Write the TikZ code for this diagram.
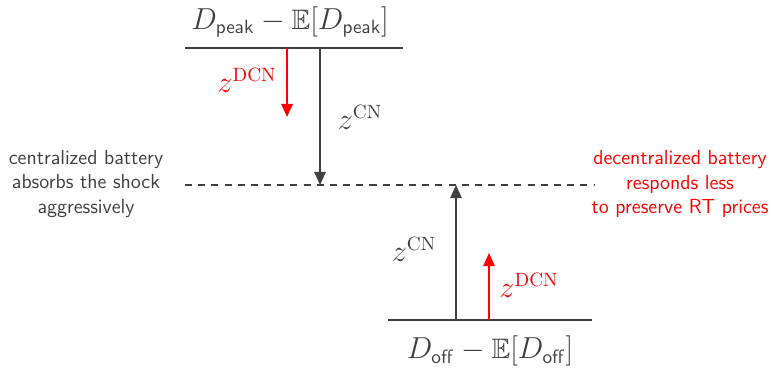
\documentclass[tikz,border=0pt]{standalone}
\usepackage{amssymb}
\usetikzlibrary{arrows.meta}
\definecolor{dk}{HTML}{404040}
\tikzset{
  base/.style={draw=dk, line width=1.1pt},
  arr/.style={line width=1.1pt, -{Triangle[length=7.5pt,width=6.5pt]}},
  lbl/.style={font=\fontsize{16}{19}\selectfont, text=dk, inner sep=0pt},
  note/.style={font=\sffamily\fontsize{11.6}{13.8}\selectfont, align=center, inner sep=0pt},
}
\begin{document}
\begin{tikzpicture}[x=0.02cm, y=-0.02cm]
\useasboundingbox (0,0) rectangle (773,368);
% baselines
\coordinate (tl) at (185,48);  \coordinate (tr) at (403,48);
\coordinate (bl) at (388,320); \coordinate (br) at (592,320);
\coordinate (dl) at (185,185); \coordinate (dr) at (595,185);
\draw[base] (tl) -- (tr);
\draw[base] (bl) -- (br);
\draw[draw=dk, line width=0.8pt, dash pattern=on 4pt off 3.5pt] (dl) -- (dr);
% labels of baselines
\node[lbl] (peak) at (290,22) {$D_{\mathsf{peak}}-\mathbb{E}[D_{\mathsf{peak}}]$};
\node[lbl] (off) at (490,351) {$D_{\mathsf{off}}-\mathbb{E}[D_{\mathsf{off}}]$};
% arrows from peak
\coordinate (rs) at (287,48); \coordinate (re) at (287,117);
\coordinate (ks) at (320,48); \coordinate (ke) at (320,185);
\draw[arr, red] (rs) -- (re);
\draw[arr, dk] (ks) -- (ke);
\node[lbl, text=red] (zd1) at (247,80) {$z^{\mathrm{DCN}}$};
\node[lbl] (zc1) at (360,117) {$z^{\mathrm{CN}}$};
% arrows from off
\coordinate (ks2) at (456,320); \coordinate (ke2) at (456,185);
\coordinate (rs2) at (489,320); \coordinate (re2) at (489,253);
\draw[arr, dk] (ks2) -- (ke2);
\draw[arr, red] (rs2) -- (re2);
\node[lbl] (zc2) at (414,249) {$z^{\mathrm{CN}}$};
\node[lbl, text=red] (zd2) at (529,285) {$z^{\mathrm{DCN}}$};
% notes
\node[note, text=dk] (left) at (86,184) {centralized battery\\absorbs the shock\\aggressively};
\node[note, text=red] (right) at (680,184) {decentralized battery\\responds less\\to preserve RT prices};
\end{tikzpicture}
\end{document}
